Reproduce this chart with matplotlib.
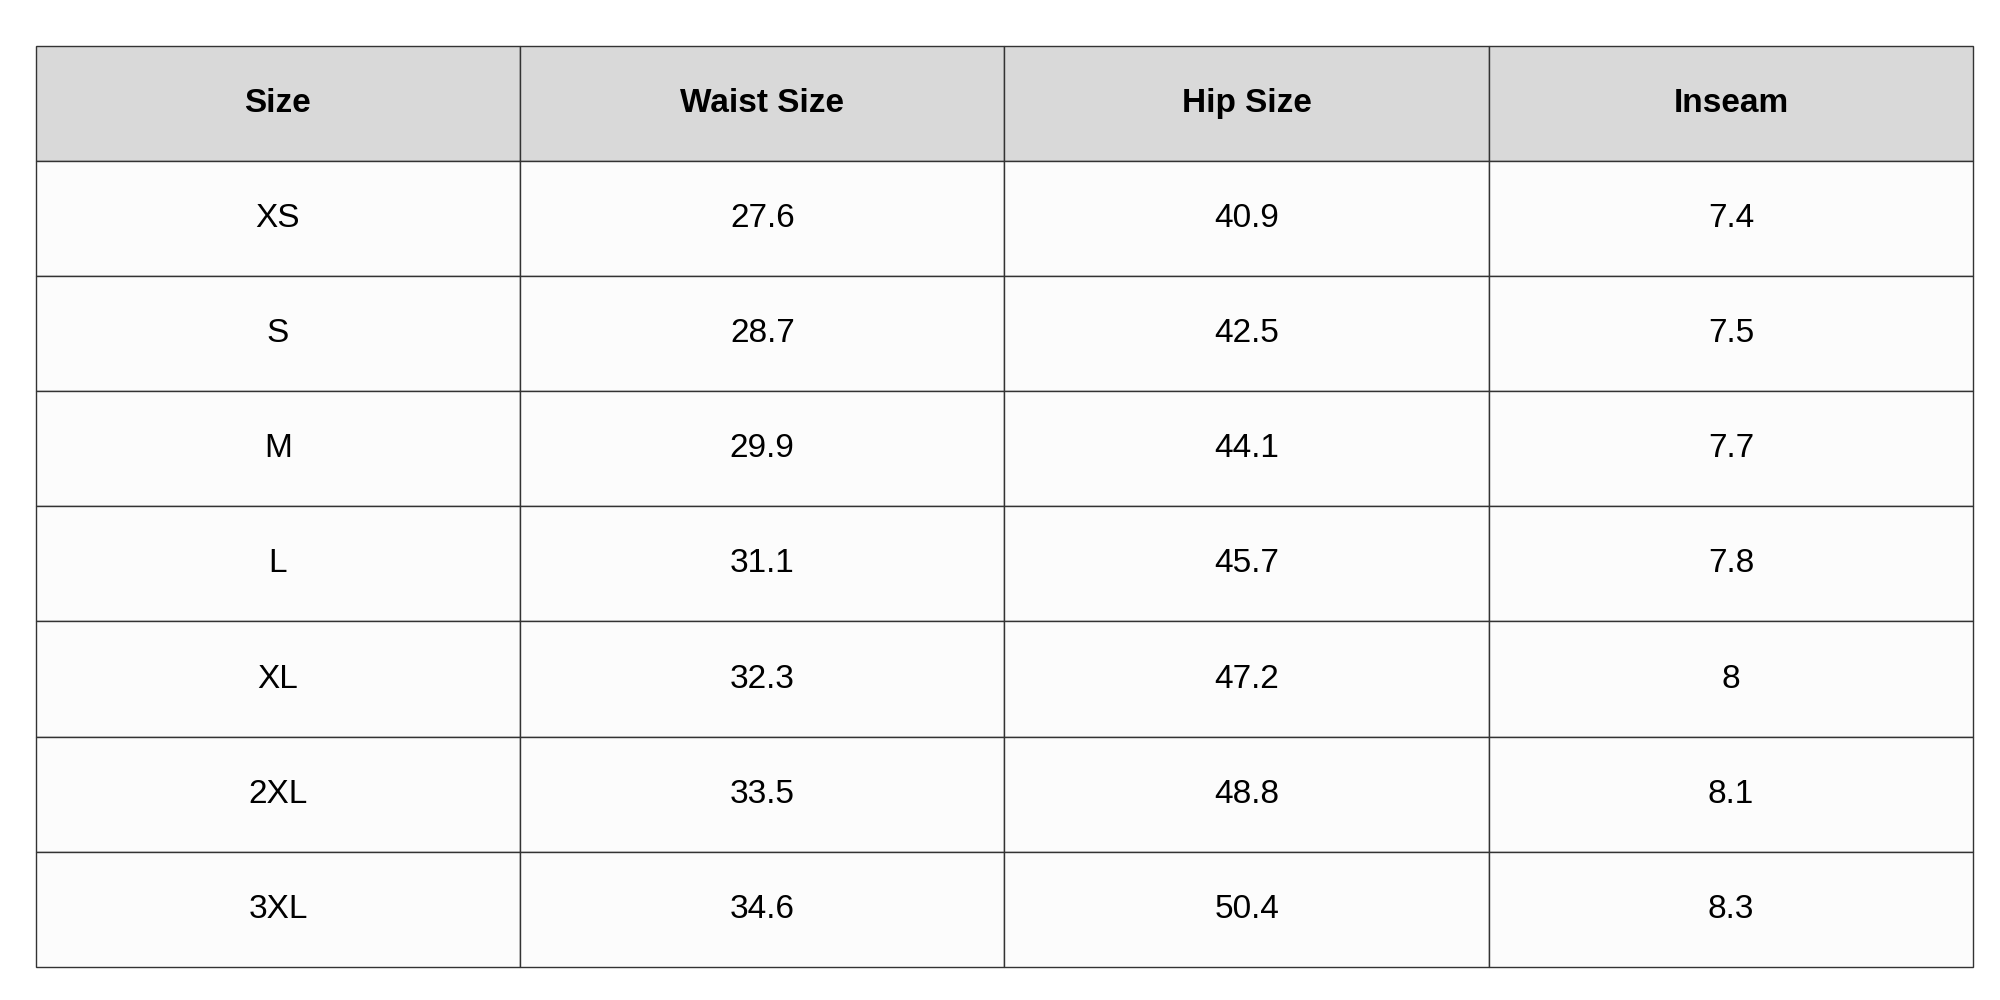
import matplotlib
matplotlib.use("Agg")
import matplotlib.pyplot as plt
from matplotlib.patches import Rectangle

columns = ["Size", "Waist Size", "Hip Size", "Inseam"]
sizes = ["XS", "S", "M", "L", "XL", "2XL", "3XL"]
waist = ["27.6", "28.7", "29.9", "31.1", "32.3", "33.5", "34.6"]
hip = ["40.9", "42.5", "44.1", "45.7", "47.2", "48.8", "50.4"]
inseam = ["7.4", "7.5", "7.7", "7.8", "8", "8.1", "8.3"]

plt.rcParams['font.family'] = ['Liberation Sans', 'DejaVu Sans']
fig = plt.figure(figsize=(20, 10), dpi=100)
ax = fig.add_axes([0, 0, 1, 1])
ax.set_xlim(0, 1)
ax.set_ylim(1, 0)
ax.axis('off')

left, right = 28 / 1568, 1547 / 1568
top, bottom = 36 / 784, 758 / 784
ncol = len(columns)
rows = [columns] + [list(r) for r in zip(sizes, waist, hip, inseam)]
nrow = len(rows)
cw = (right - left) / ncol
rh = (bottom - top) / nrow

for i, row in enumerate(rows):
    for j, val in enumerate(row):
        x = left + j * cw
        y = top + i * rh
        ax.add_patch(Rectangle((x, y), cw, rh, facecolor='#d9d9d9' if i == 0 else '#fcfcfc',
                               edgecolor='#333333', linewidth=1.0))
        ax.text(x + cw / 2, y + rh / 2, val, ha='center', va='center', fontsize=24,
                fontweight='bold' if i == 0 else 'normal', color='black')

fig.savefig('out.png', dpi=100, facecolor='white')
